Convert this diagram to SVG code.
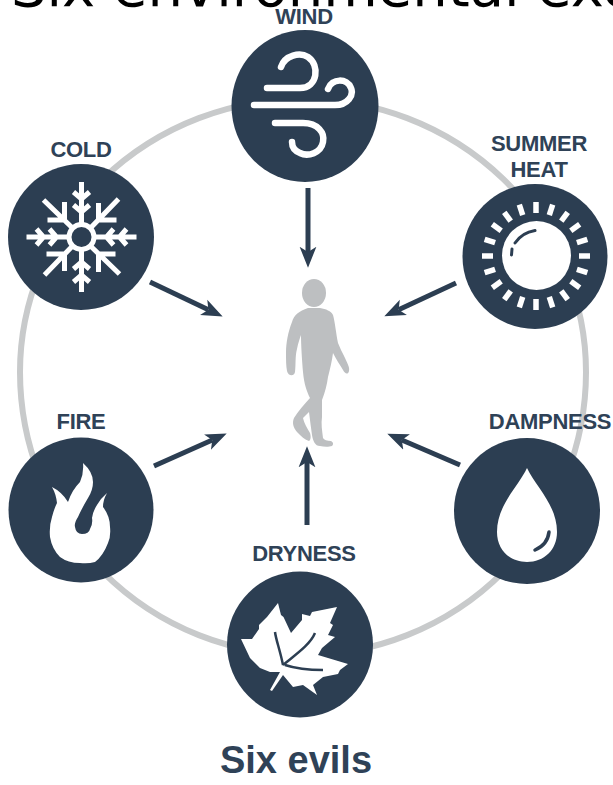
<svg xmlns="http://www.w3.org/2000/svg" width="613" height="785" viewBox="0 0 613 785">
<defs>
<marker id="ah" viewBox="0 0 10 10" refX="2.5" refY="5" markerUnits="userSpaceOnUse" markerWidth="21" markerHeight="21" orient="auto"><path d="M0 1L10 5L0 9L2.5 5Z" fill="#2c3e52"/></marker>
<g id="arm"><path d="M0 -13V-55M-8 -45L0 -38L8 -45M-8 -32L0 -25L8 -32"/></g>
<g id="diag"><path d="M-9 -9L-38 -37M-34 -17H-17V-35"/></g>
<path id="ray" d="M536 202V213"/>
</defs>
<style>
.l{font-family:"Liberation Sans",Arial,sans-serif;font-weight:700;font-size:22px;fill:#2f4257;text-anchor:middle;letter-spacing:-.3px}
.c{fill:#2c3e52}
.w{fill:none;stroke:#fff;stroke-width:6.5;stroke-linecap:round;stroke-linejoin:round}
.a{fill:none;stroke:#2c3e52;stroke-width:5;marker-end:url(#ah)}
.f{fill:#fff}
</style>
<rect width="613" height="785" fill="#fff"/>
<text x="11" y="6" font-family="'DejaVu Sans',sans-serif" font-size="56" fill="#000">Six environmental exo</text>
<path d="M20 372A283 273 0 0 1 586 372A283 283 0 0 1 20 372Z" fill="none" stroke="#c8cacb" stroke-width="6"/>
<g id="connectors">
<path class="a" d="M308 188V252"/>
<path class="a" d="M150 282L208.400 309.700"/>
<path class="a" d="M456 283L398.600 309.700"/>
<path class="a" d="M154 466L212.300 440"/>
<path class="a" d="M460 465L401.800 440"/>
<path class="a" d="M307 525V462"/>
</g>
<g id="person"><path fill="#bdbfc1" d="M308 308C299 311 294 315 292 322C288 332 286 343 286 352C286 360 286 366 287 371C288 376 294 377 295 372C296 364 295 356 297 349C298 343 300 338 301 335C301 345 302 360 303 372C304 384 307 392 310 398C304 405 298 411 294 418C292 423 293 427 297 432C301 436 305 440 309 441C311 440 311 436 310 433C307 428 304 423 303 418C305 416 307 414 309 412C310 420 311 428 312 435C313 441 315 446 320 446C324 447 329 447 332 446C334 444 333 442 331 441C327 441 324 440 323 438C322 430 321 424 322 417C322 410 322 405 322 400C325 392 327 385 328 377C330 369 332 361 333 353C336 359 340 365 343 370C345 374 348 375 349 371C350 367 347 363 345 358C342 352 340 348 338 343C336 333 335 322 333 315C331 311 326 309 320 308Z"/><ellipse cx="314" cy="293" rx="12" ry="14" fill="#bdbfc1"/></g>
<g id="wind"><text class="l" x="304" y="24">WIND</text><ellipse class="c" cx="305" cy="106" rx="73.500" ry="76"/>
<path class="w" d="M281 67C285 55 300 52 308 57C320 65 318 88 300 88H267"/>
<path class="w" d="M254 105H335C348 105 354 95 351 88C347 78 332 78 328 89"/>
<path class="w" d="M275 123H303C318 123 325 133 323 142C321 153 308 157 300 153C295 151 292 147 292 142"/>
</g>
<g id="cold"><text class="l" x="81" y="157">COLD</text><circle class="c" cx="81" cy="237" r="73"/>
<g stroke="#fff" stroke-width="5" fill="none" transform="translate(81.500 237)"><circle r="12.500"/>
<use href="#arm"/><use href="#arm" transform="rotate(90)"/><use href="#arm" transform="rotate(180)"/><use href="#arm" transform="rotate(270)"/>
<use href="#diag"/><use href="#diag" transform="rotate(90)"/><use href="#diag" transform="rotate(180)"/><use href="#diag" transform="rotate(270)"/>
</g></g>
<g id="summer"><text class="l" x="539" y="151">SUMMER</text><text class="l" x="539" y="177">HEAT</text><circle class="c" cx="535" cy="256.500" r="72.500"/>
<circle class="f" cx="536.500" cy="255.500" r="34.500"/>
<path d="M535 230.500C526 232 519 237 515 243M512 249L511.500 255" fill="none" stroke="#2c3e52" stroke-width="3" stroke-linecap="round"/>
<g stroke="#fff" stroke-width="5.500" fill="none">
<use href="#ray"/><use href="#ray" transform="rotate(18 536 256)"/><use href="#ray" transform="rotate(36 536 256)"/><use href="#ray" transform="rotate(54 536 256)"/><use href="#ray" transform="rotate(72 536 256)"/><use href="#ray" transform="rotate(90 536 256)"/><use href="#ray" transform="rotate(108 536 256)"/><use href="#ray" transform="rotate(126 536 256)"/><use href="#ray" transform="rotate(144 536 256)"/><use href="#ray" transform="rotate(162 536 256)"/><use href="#ray" transform="rotate(180 536 256)"/><use href="#ray" transform="rotate(198 536 256)"/><use href="#ray" transform="rotate(216 536 256)"/><use href="#ray" transform="rotate(234 536 256)"/><use href="#ray" transform="rotate(252 536 256)"/><use href="#ray" transform="rotate(270 536 256)"/><use href="#ray" transform="rotate(288 536 256)"/><use href="#ray" transform="rotate(306 536 256)"/><use href="#ray" transform="rotate(324 536 256)"/><use href="#ray" transform="rotate(342 536 256)"/>
</g></g>
<g id="fire"><text class="l" x="81" y="429">FIRE</text><circle class="c" cx="81" cy="510" r="72.500"/>
<path class="f" d="M52 487Q62 492 68 502Q72 490 80 482Q84 473 83 463Q93 472 93 482Q93 490 88 498Q82 508 78 517Q74 523 75 527Q76 534 82 534Q89 534 90 529Q93 524 92 518Q93 511 97 505Q101 498 107 493Q103 500 103 507Q110 516 110 527Q111 536 108 543Q103 556 95 562Q88 564 80 563Q68 563 60 557Q52 549 50 537Q49 526 52 517Q54 509 57 503Q56 494 52 487Z"/></g>
<g id="dampness"><text class="l" x="550" y="429">DAMPNESS</text><circle class="c" cx="527" cy="511" r="73"/>
<path class="f" d="M527 468C536 487 557 505 557 532C557 550 544 562 527 562C510 562 497 550 497 532C497 505 518 487 527 468Z"/>
<path d="M549 532C548 541 542 547 535 550" fill="none" stroke="#2c3e52" stroke-width="3.500" stroke-linecap="round"/></g>
<g id="dryness"><text class="l" x="304" y="561">DRYNESS</text><circle class="c" cx="300" cy="644.500" r="73"/>
<path class="f" d="M278 603L281 615L283.500 617L291 633L302 620L302 614L310 616L312 612L337 607L330 623L333 625L328 635L335 637L322 648L318 655L348 664L340 670L338 674L323 677L313 685L317 695L303 685L293 687L283 675L272 691L270 690L280 672L270 672L260 668L250 658L241 639L252 639L259 629L259 625L267 617L267 617Z"/>
<path d="M283 665C280 650 276 640 275 632M283 665C295 655 310 645 315 633M285 665C300 670 313 670 323 670" fill="none" stroke="#2c3e52" stroke-width="2.500"/></g>
<text x="296" y="773" font-family="'Liberation Sans',Arial,sans-serif" font-weight="700" font-size="38" fill="#2f4257" text-anchor="middle">Six evils</text>
</svg>
